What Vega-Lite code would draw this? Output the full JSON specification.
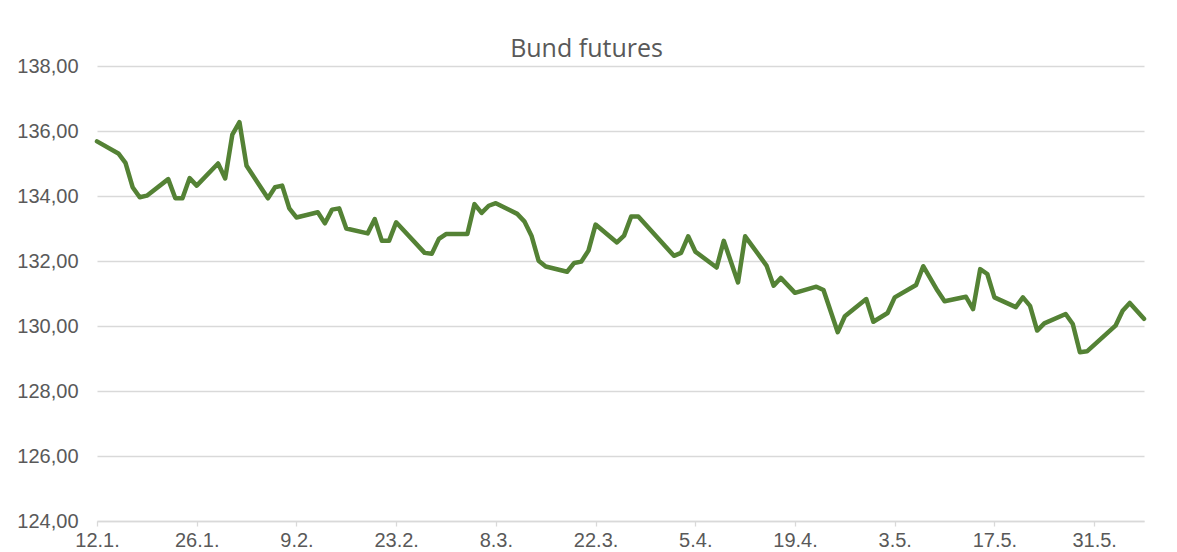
{
  "$schema": "https://vega.github.io/schema/vega-lite/v6.json",
  "autosize": "none",
  "width": 1047,
  "height": 455,
  "padding": {"left": 97, "top": 66, "right": 33, "bottom": 31},
  "background": "#ffffff",
  "title": {
    "text": "Bund futures",
    "anchor": "middle",
    "frame": "group",
    "dx": -34,
    "dy": 12,
    "offset": 6,
    "font": "Open Sans",
    "fontSize": 25,
    "fontWeight": "normal",
    "color": "#595959"
  },
  "config": {
    "locale": {
      "number": {"decimal": ",", "thousands": ".", "grouping": [3], "currency": ["", " €"]}
    },
    "view": {"stroke": null},
    "axis": {
      "labelFont": "Liberation Sans",
      "labelFontSize": 20,
      "labelColor": "#595959",
      "titleFont": "Liberation Sans"
    }
  },
  "data": {
    "values": [
      {"date": "2024-01-12", "price": 135.68},
      {"date": "2024-01-15", "price": 135.31},
      {"date": "2024-01-16", "price": 135.02},
      {"date": "2024-01-17", "price": 134.27},
      {"date": "2024-01-18", "price": 133.96},
      {"date": "2024-01-19", "price": 134.01},
      {"date": "2024-01-22", "price": 134.52},
      {"date": "2024-01-23", "price": 133.93},
      {"date": "2024-01-24", "price": 133.93},
      {"date": "2024-01-25", "price": 134.55},
      {"date": "2024-01-26", "price": 134.32},
      {"date": "2024-01-29", "price": 135.00},
      {"date": "2024-01-30", "price": 134.54},
      {"date": "2024-01-31", "price": 135.89},
      {"date": "2024-02-01", "price": 136.27},
      {"date": "2024-02-02", "price": 134.93},
      {"date": "2024-02-05", "price": 133.93},
      {"date": "2024-02-06", "price": 134.27},
      {"date": "2024-02-07", "price": 134.32},
      {"date": "2024-02-08", "price": 133.62},
      {"date": "2024-02-09", "price": 133.34},
      {"date": "2024-02-12", "price": 133.50},
      {"date": "2024-02-13", "price": 133.16},
      {"date": "2024-02-14", "price": 133.58},
      {"date": "2024-02-15", "price": 133.62},
      {"date": "2024-02-16", "price": 133.00},
      {"date": "2024-02-19", "price": 132.85},
      {"date": "2024-02-20", "price": 133.29},
      {"date": "2024-02-21", "price": 132.62},
      {"date": "2024-02-22", "price": 132.62},
      {"date": "2024-02-23", "price": 133.19},
      {"date": "2024-02-27", "price": 132.25},
      {"date": "2024-02-28", "price": 132.22},
      {"date": "2024-02-29", "price": 132.68},
      {"date": "2024-03-01", "price": 132.83},
      {"date": "2024-03-04", "price": 132.83},
      {"date": "2024-03-05", "price": 133.75},
      {"date": "2024-03-06", "price": 133.48},
      {"date": "2024-03-07", "price": 133.70},
      {"date": "2024-03-08", "price": 133.78},
      {"date": "2024-03-11", "price": 133.45},
      {"date": "2024-03-12", "price": 133.22},
      {"date": "2024-03-13", "price": 132.78},
      {"date": "2024-03-14", "price": 132.01},
      {"date": "2024-03-15", "price": 131.83},
      {"date": "2024-03-18", "price": 131.67},
      {"date": "2024-03-19", "price": 131.94},
      {"date": "2024-03-20", "price": 131.98},
      {"date": "2024-03-21", "price": 132.32},
      {"date": "2024-03-22", "price": 133.12},
      {"date": "2024-03-25", "price": 132.57},
      {"date": "2024-03-26", "price": 132.78},
      {"date": "2024-03-27", "price": 133.37},
      {"date": "2024-03-28", "price": 133.37},
      {"date": "2024-04-02", "price": 132.16},
      {"date": "2024-04-03", "price": 132.25},
      {"date": "2024-04-04", "price": 132.76},
      {"date": "2024-04-05", "price": 132.29},
      {"date": "2024-04-08", "price": 131.80},
      {"date": "2024-04-09", "price": 132.62},
      {"date": "2024-04-11", "price": 131.34},
      {"date": "2024-04-12", "price": 132.76},
      {"date": "2024-04-15", "price": 131.86},
      {"date": "2024-04-16", "price": 131.24},
      {"date": "2024-04-17", "price": 131.48},
      {"date": "2024-04-19", "price": 131.02},
      {"date": "2024-04-22", "price": 131.21},
      {"date": "2024-04-23", "price": 131.11},
      {"date": "2024-04-25", "price": 129.81},
      {"date": "2024-04-26", "price": 130.30},
      {"date": "2024-04-29", "price": 130.83},
      {"date": "2024-04-30", "price": 130.13},
      {"date": "2024-05-02", "price": 130.40},
      {"date": "2024-05-03", "price": 130.88},
      {"date": "2024-05-06", "price": 131.26},
      {"date": "2024-05-07", "price": 131.84},
      {"date": "2024-05-09", "price": 131.09},
      {"date": "2024-05-10", "price": 130.76},
      {"date": "2024-05-13", "price": 130.90},
      {"date": "2024-05-14", "price": 130.52},
      {"date": "2024-05-15", "price": 131.75},
      {"date": "2024-05-16", "price": 131.60},
      {"date": "2024-05-17", "price": 130.88},
      {"date": "2024-05-20", "price": 130.58},
      {"date": "2024-05-21", "price": 130.88},
      {"date": "2024-05-22", "price": 130.62},
      {"date": "2024-05-23", "price": 129.86},
      {"date": "2024-05-24", "price": 130.08},
      {"date": "2024-05-27", "price": 130.37},
      {"date": "2024-05-28", "price": 130.06},
      {"date": "2024-05-29", "price": 129.19},
      {"date": "2024-05-30", "price": 129.22},
      {"date": "2024-06-03", "price": 130.01},
      {"date": "2024-06-04", "price": 130.47},
      {"date": "2024-06-05", "price": 130.71},
      {"date": "2024-06-07", "price": 130.22}
    ]
  },
  "mark": {
    "type": "line",
    "color": "#548235",
    "strokeWidth": 4.5,
    "strokeJoin": "round",
    "strokeCap": "round"
  },
  "encoding": {
    "x": {
      "field": "date",
      "type": "temporal",
      "scale": {
        "type": "utc",
        "domain": [
          {"year": 2024, "month": 1, "date": 12, "utc": true},
          {"year": 2024, "month": 6, "date": 7, "utc": true}
        ]
      },
      "axis": {
        "title": null,
        "values": [
          {"year": 2024, "month": 1, "date": 12, "utc": true},
          {"year": 2024, "month": 1, "date": 26, "utc": true},
          {"year": 2024, "month": 2, "date": 9, "utc": true},
          {"year": 2024, "month": 2, "date": 23, "utc": true},
          {"year": 2024, "month": 3, "date": 8, "utc": true},
          {"year": 2024, "month": 3, "date": 22, "utc": true},
          {"year": 2024, "month": 4, "date": 5, "utc": true},
          {"year": 2024, "month": 4, "date": 19, "utc": true},
          {"year": 2024, "month": 5, "date": 3, "utc": true},
          {"year": 2024, "month": 5, "date": 17, "utc": true},
          {"year": 2024, "month": 5, "date": 31, "utc": true}
        ],
        "format": "%-d.%-m.",
        "grid": false,
        "domainColor": "#d9d9d9",
        "domainWidth": 1.3,
        "tickColor": "#d9d9d9",
        "tickWidth": 1.3,
        "tickSize": 5,
        "labelPadding": 4,
        "labelAlign": "center",
        "labelOverlap": false,
        "labelFlush": false
      }
    },
    "y": {
      "field": "price",
      "type": "quantitative",
      "scale": {"domain": [124, 138], "zero": false, "nice": false},
      "axis": {
        "title": null,
        "values": [124, 126, 128, 130, 132, 134, 136, 138],
        "format": ".2f",
        "domain": false,
        "ticks": false,
        "grid": true,
        "gridColor": "#d9d9d9",
        "gridWidth": 1.3,
        "labelPadding": 19
      }
    }
  }
}
